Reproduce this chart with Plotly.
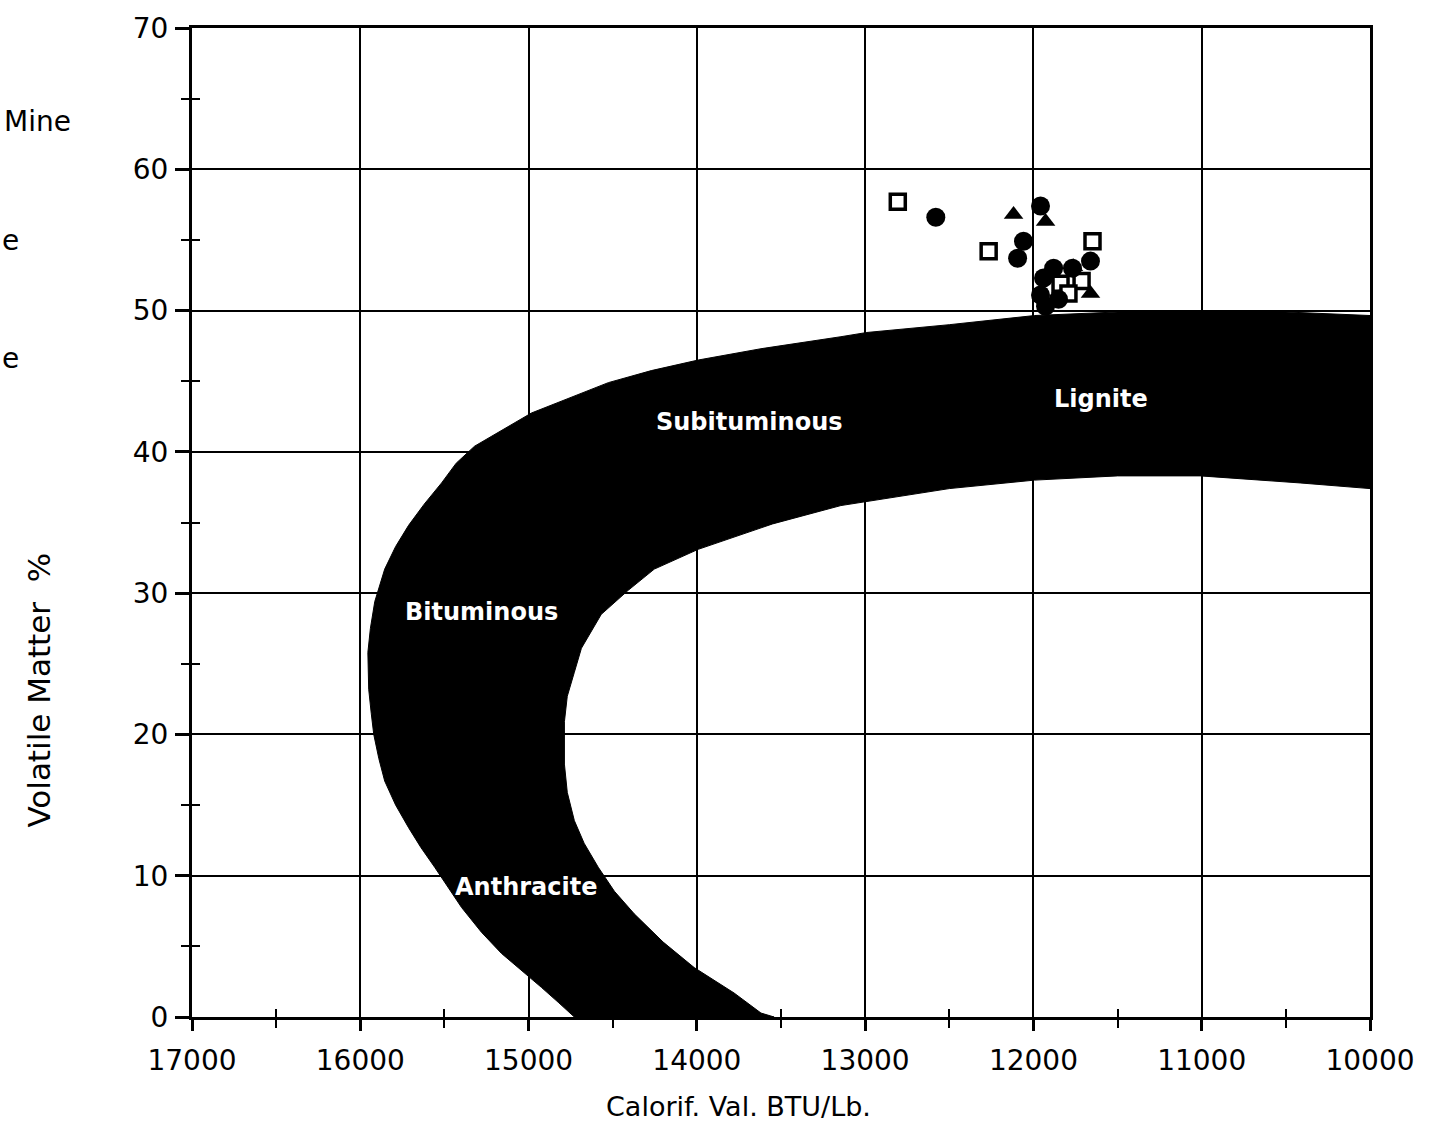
import plotly.graph_objects as go

# ---------------- data ----------------
x_ticks = [17000, 16000, 15000, 14000, 13000, 12000, 11000, 10000]
x_tick_labels = ["17000", "16000", "15000", "14000", "13000", "12000", "11000", "10000"]
x_minor = [16500, 15500, 14500, 13500, 12500, 11500, 10500]
y_ticks = [0, 10, 20, 30, 40, 50, 60, 70]
y_minor = [5, 15, 25, 35, 45, 55, 65]

# coal-rank band: outer (upper/left) boundary, from right to bottom
outer_x = [10000, 10500, 11009, 11500, 11993, 12500, 12990, 13144, 13619, 13992, 14271, 14526,
           14983, 15161, 15321, 15430, 15517, 15620, 15713, 15790, 15855, 15914, 15940, 15955,
           15950, 15935, 15920, 15890, 15855, 15790, 15713, 15640, 15558, 15398, 15280, 15161,
           15040, 14924, 14820, 14728]
outer_y = [49.65, 49.9, 50.0, 49.9, 49.65, 49.0, 48.45, 48.15, 47.3, 46.5, 45.75, 44.9,
           42.75, 41.5, 40.4, 39.2, 37.8, 36.3, 34.8, 33.3, 31.7, 29.4, 27.5, 25.8,
           23.2, 21.5, 20.0, 18.3, 16.7, 15.0, 13.4, 12.0, 10.6, 7.75, 6.0, 4.5,
           3.3, 2.1, 1.0, 0.0]
# inner (lower/right) boundary, from bottom to right
inner_x = [13541, 13619, 13779, 14016, 14200, 14372, 14490, 14586, 14670, 14728, 14770, 14787,
           14787, 14770, 14728, 14686, 14568, 14408, 14253, 13992, 13550, 13144, 12500,
           11993, 11500, 11009, 10415, 10000]
inner_y = [0.0, 0.28, 1.7, 3.5, 5.3, 7.3, 8.9, 10.6, 12.3, 13.9, 15.9, 17.9,
           20.9, 22.7, 24.4, 26.1, 28.5, 30.2, 31.7, 33.1, 34.9, 36.2, 37.4,
           38.0, 38.3, 38.3, 37.8, 37.4]

band_labels = ["Subituminous", "Lignite", "Bituminous", "Anthracite"]
band_label_x = [13690, 11597, 15280, 15013]
band_label_y = [42.1, 43.75, 28.65, 9.2]

square_x = [12806, 12266, 11649, 11839, 11714, 11792]
square_y = [57.7, 54.2, 54.9, 51.9, 52.1, 51.2]
circle_x = [12580, 11958, 12059, 12094, 11661, 11880, 11768, 11940, 11958, 11928, 11851]
circle_y = [56.6, 57.4, 54.9, 53.7, 53.5, 53.0, 53.0, 52.3, 51.1, 50.3, 50.8]
tri_x = [12118, 11928, 11762, 11661]
tri_y = [56.8, 56.3, 53.1, 51.2]

legend_fragments = ["Mine", "e", "e"]

x_title = "Calorif. Val. BTU/Lb."
y_title = "Volatile Matter\u00a0\u00a0%"

# ---------------- figure ----------------
FONT = "DejaVu Sans"
fig = go.Figure()

band_x = outer_x + inner_x + [outer_x[0]]
band_y = outer_y + inner_y + [outer_y[0]]
fig.add_trace(go.Scatter(x=band_x, y=band_y, mode="lines", fill="toself",
                         fillcolor="black", line=dict(color="black", width=1),
                         hoverinfo="skip", showlegend=False))

fig.add_trace(go.Scatter(x=square_x, y=square_y, mode="markers", showlegend=False,
                         marker=dict(symbol="square", size=15, color="white",
                                     line=dict(color="black", width=3.5))))
fig.add_trace(go.Scatter(x=circle_x, y=circle_y, mode="markers", showlegend=False,
                         marker=dict(symbol="circle", size=19, color="black",
                                     line=dict(width=0))))
fig.add_trace(go.Scatter(x=tri_x, y=tri_y, mode="markers", showlegend=False,
                         marker=dict(symbol="triangle-up", size=17, color="black",
                                     line=dict(width=0))))

# invisible trace to activate overlay axes (crossing minor ticks)
fig.add_trace(go.Scatter(x=x_minor, y=y_minor, xaxis="x2", yaxis="y2", mode="markers",
                         marker=dict(opacity=0), hoverinfo="skip", showlegend=False))

for txt, bx, by in zip(band_labels, band_label_x, band_label_y):
    fig.add_annotation(x=bx, y=by, text=txt, showarrow=False,
                       xanchor="center", yanchor="middle",
                       font=dict(family=FONT, size=24, color="white", weight="bold"))

axis_common = dict(showline=True, linecolor="black", linewidth=3, mirror=True,
                   showgrid=True, gridcolor="black", gridwidth=2, zeroline=False,
                   tickcolor="black", tickwidth=2.5,
                   tickfont=dict(family=FONT, size=28, color="black"))

fig.update_layout(
    width=1437, height=1143,
    margin=dict(l=192, r=67, t=23, b=126),
    paper_bgcolor="white", plot_bgcolor="white",
    xaxis=dict(range=[17000, 10000], tickvals=x_ticks, ticktext=x_tick_labels,
               ticks="outside", ticklen=11, ticklabelstandoff=5,
               minor=dict(tickvals=x_minor, ticks="outside", ticklen=8, tickwidth=2,
                          tickcolor="black", showgrid=False),
               **axis_common),
    yaxis=dict(range=[0, 70], tickvals=y_ticks, ticks="outside", ticklen=14,
               ticklabelstandoff=1,
               minor=dict(tickvals=y_minor, ticks="outside", ticklen=8, tickwidth=2,
                          tickcolor="black", showgrid=False),
               **axis_common),
    xaxis2=dict(range=[17000, 10000], overlaying="x", anchor="y", side="bottom",
                tickvals=x_minor, ticks="inside", ticklen=8, tickwidth=2, tickcolor="black",
                showticklabels=False, showgrid=False, zeroline=False, showline=False),
    yaxis2=dict(range=[0, 70], overlaying="y", anchor="x", side="left",
                tickvals=y_minor, ticks="inside", ticklen=8, tickwidth=2, tickcolor="black",
                showticklabels=False, showgrid=False, zeroline=False, showline=False),
    showlegend=False,
)

# axis titles (offset as in the original drawing)
fig.add_annotation(xref="paper", yref="paper", x=0.464, y=-0.091, text=x_title,
                   xanchor="center", yanchor="middle",
                   showarrow=False, font=dict(family=FONT, size=27, color="black"))
fig.add_annotation(xref="paper", yref="paper", x=-0.13, y=0.331, text=y_title,
                   xanchor="center", yanchor="middle",
                   textangle=-90, showarrow=False,
                   font=dict(family=FONT, size=31, color="black"))

# cut-off legend text at the left edge
frag_y = [0.905, 0.785, 0.666]
frag_x = [-0.161, -0.163, -0.163]
for txt, fx, fy in zip(legend_fragments, frag_x, frag_y):
    fig.add_annotation(xref="paper", yref="paper", x=fx, y=fy, text=txt,
                       xanchor="left", yanchor="middle",
                       showarrow=False, font=dict(family=FONT, size=28, color="black"))

fig.write_html("out.html")
